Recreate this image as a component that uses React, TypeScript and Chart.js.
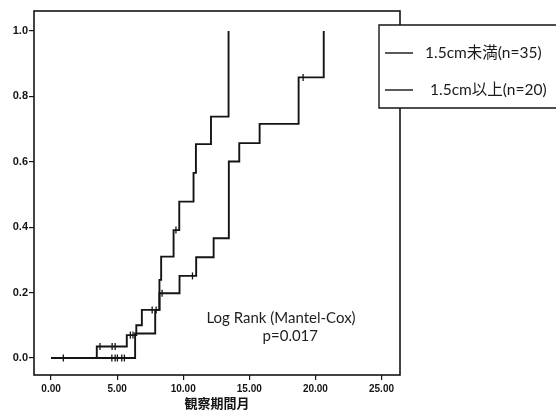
import React, { useEffect, useRef } from "react";
import { Chart, registerables } from "chart.js";
Chart.register(...registerables);

// ---- data ----
const groupLabels = ["1.5cm未満(n=35)", "1.5cm以上(n=20)"];

const monthsA = [0, 3.46, 5.73, 6.45, 6.87, 8.2, 8.33, 9.27, 9.7, 10.78, 10.96, 12.1, 13.43];
const cumA = [0, 0.035, 0.07, 0.1, 0.147, 0.239, 0.31, 0.391, 0.478, 0.566, 0.654, 0.738, 1.0];

const monthsB = [0, 6.36, 7.88, 8.2, 9.72, 10.98, 12.3, 13.45, 14.24, 15.78, 18.73, 20.63];
const cumB = [0, 0.075, 0.147, 0.198, 0.251, 0.308, 0.366, 0.601, 0.657, 0.716, 0.858, 1.0];

const censorMonthsA = [3.7, 4.62, 4.85, 6.0, 6.2, 7.65, 7.95, 9.45];
const censorCumA = [0.035, 0.035, 0.035, 0.07, 0.07, 0.147, 0.147, 0.391];

const censorMonthsB = [0.93, 4.6, 4.85, 5.02, 5.35, 5.55, 8.4, 10.7, 19.07];
const censorCumB = [0, 0, 0, 0, 0, 0, 0.198, 0.251, 0.858];

const xTicks = [0, 5, 10, 15, 20, 25];
const yTicks = [0, 0.2, 0.4, 0.6, 0.8, 1.0];
const xAxisTitle = "観察期間月";
const testLines = ["Log Rank (Mantel-Cox)", "p=0.017"];

const INK = "#141414";

const pts = (xs: number[], ys: number[]) => xs.map((x, i) => ({ x, y: ys[i] }));

const overlayPlugin = {
  id: "overlay",
  afterDraw(chart: any) {
    const { ctx, chartArea: ca, scales } = chart;
    ctx.save();
    // frame
    ctx.strokeStyle = INK;
    ctx.lineWidth = 1.6;
    ctx.strokeRect(ca.left, ca.top, ca.right - ca.left, ca.bottom - ca.top);

    // test annotation
    ctx.fillStyle = "#1e1e1e";
    ctx.font = '15px Lato, "Noto Sans CJK JP", sans-serif';
    ctx.textAlign = "center";
    ctx.textBaseline = "middle";
    ctx.fillText(testLines[0], scales.x.getPixelForValue(17.4), scales.y.getPixelForValue(0.122));
    ctx.fillText(testLines[1], scales.x.getPixelForValue(18.1), scales.y.getPixelForValue(0.067));

    // legend box (runs off the right edge of the picture)
    const lx = ca.right - 21;
    const ly = ca.top + 14;
    const lh = 83;
    const rightEnd = chart.width + 10;
    ctx.fillStyle = "#fff";
    ctx.fillRect(lx, ly, rightEnd - lx, lh);
    ctx.lineWidth = 1.4;
    ctx.beginPath();
    ctx.moveTo(rightEnd, ly);
    ctx.lineTo(lx, ly);
    ctx.lineTo(lx, ly + lh);
    ctx.lineTo(rightEnd, ly + lh);
    ctx.stroke();
    const rows = [ly + 28, ly + 65];
    const textX = [lx + 46, lx + 51];
    ctx.textAlign = "left";
    ctx.font = '15.5px Lato, "Noto Sans CJK JP", sans-serif';
    groupLabels.forEach((lab, i) => {
      ctx.strokeStyle = INK;
      ctx.lineWidth = 1.4;
      ctx.beginPath();
      ctx.moveTo(lx + 6, rows[i]);
      ctx.lineTo(lx + 34, rows[i]);
      ctx.stroke();
      ctx.fillStyle = "#1a1a1a";
      ctx.fillText(lab, textX[i], rows[i]);
    });
    ctx.restore();
  },
};

export default function App() {
  const ref = useRef<HTMLCanvasElement | null>(null);
  useEffect(() => {
    document.body.style.margin = "0";
    document.body.style.overflow = "hidden";
    if (!ref.current) return;
    const stepStyle = {
      type: "line" as const,
      stepped: "before" as const,
      borderColor: INK,
      borderWidth: 1.9,
      pointRadius: 0,
      fill: false,
    };
    const censorStyle = {
      type: "line" as const,
      showLine: false,
      pointStyle: "line" as const,
      rotation: 90,
      pointRadius: 3.5,
      borderColor: INK,
      borderWidth: 1.3,
    };
    const chart = new Chart(ref.current, {
      type: "line",
      data: {
        datasets: [
          { ...stepStyle, label: groupLabels[0], data: pts(monthsA, cumA) },
          { ...stepStyle, label: groupLabels[1], data: pts(monthsB, cumB) },
          { ...censorStyle, label: groupLabels[0] + " censored", data: pts(censorMonthsA, censorCumA) },
          { ...censorStyle, label: groupLabels[1] + " censored", data: pts(censorMonthsB, censorCumB) },
        ] as any,
      },
      options: {
        animation: false,
        responsive: false,
        layout: { padding: { left: 0, right: 156, top: 11, bottom: 0 } },
        plugins: { legend: { display: false }, tooltip: { enabled: false } },
        scales: {
          x: {
            type: "linear",
            min: -1.29,
            max: 26.4,
            afterBuildTicks: (a: any) => {
              a.ticks = xTicks.map((v) => ({ value: v }));
            },
            afterFit: (s: any) => {
              s.height = 39;
            },
            grid: { drawOnChartArea: false, drawTicks: true, tickLength: 5, color: INK, lineWidth: 1.2 },
            border: { display: false },
            ticks: {
              callback: (v: any) => Number(v).toFixed(2),
              font: { family: '"Liberation Sans", Arial, sans-serif', size: 10, weight: "bold" },
              color: INK,
              padding: 3,
              maxRotation: 0,
            },
            title: {
              display: true,
              text: xAxisTitle,
              font: { family: '"Noto Sans CJK JP", sans-serif', size: 13, weight: "bold" },
              color: INK,
              padding: { top: 0, bottom: 3 },
            },
          },
          y: {
            type: "linear",
            min: -0.052,
            max: 1.061,
            afterBuildTicks: (a: any) => {
              a.ticks = yTicks.map((v) => ({ value: v }));
            },
            afterFit: (s: any) => {
              s.width = 34;
            },
            grid: { drawOnChartArea: false, drawTicks: true, tickLength: 5, color: INK, lineWidth: 1.2 },
            border: { display: false },
            ticks: {
              callback: (v: any) => Number(v).toFixed(1),
              font: { family: '"Liberation Sans", Arial, sans-serif', size: 11, weight: "bold" },
              color: INK,
              padding: 1,
            },
          },
        },
      } as any,
      plugins: [overlayPlugin],
    });
    return () => chart.destroy();
  }, []);
  return (
    <div style={{ position: "absolute", left: 0, top: 0, width: 556, height: 414, background: "#fff", overflow: "hidden" }}>
      <canvas ref={ref} width={556} height={414} style={{ display: "block" }} />
    </div>
  );
}
